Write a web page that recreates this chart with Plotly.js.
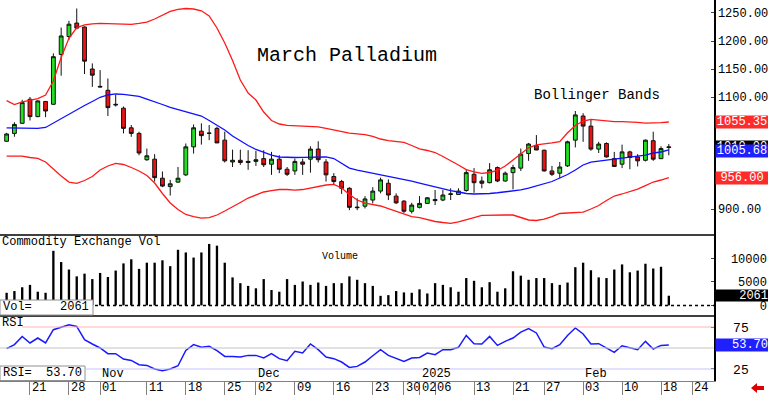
<!DOCTYPE html>
<html><head><meta charset="utf-8">
<script src="https://cdn.plot.ly/plotly-3.0.1.min.js"></script>
<style>html,body{margin:0;padding:0;background:#fff}#chart{width:768px;height:395px}</style>
</head><body><div id="chart"></div>
<script>
// Trading-day calendar (categories), including the empty days to the right
const days = [
'2024-10-16','2024-10-17','2024-10-18','2024-10-21','2024-10-22','2024-10-23','2024-10-24','2024-10-25','2024-10-28','2024-10-29','2024-10-30','2024-10-31',
'2024-11-01','2024-11-04','2024-11-05','2024-11-06','2024-11-07','2024-11-08','2024-11-11','2024-11-12','2024-11-13','2024-11-14','2024-11-15','2024-11-18','2024-11-19','2024-11-20','2024-11-21','2024-11-22','2024-11-25','2024-11-26','2024-11-27','2024-11-29',
'2024-12-02','2024-12-03','2024-12-04','2024-12-05','2024-12-06','2024-12-09','2024-12-10','2024-12-11','2024-12-12','2024-12-13','2024-12-16','2024-12-17','2024-12-18','2024-12-19','2024-12-20','2024-12-23','2024-12-24','2024-12-26','2024-12-27','2024-12-30','2024-12-31',
'2025-01-02','2025-01-03','2025-01-06','2025-01-07','2025-01-08','2025-01-09','2025-01-10','2025-01-13','2025-01-14','2025-01-15','2025-01-16','2025-01-17','2025-01-21','2025-01-22','2025-01-23','2025-01-24','2025-01-27','2025-01-28','2025-01-29','2025-01-30','2025-01-31',
'2025-02-03','2025-02-04','2025-02-05','2025-02-06','2025-02-07','2025-02-10','2025-02-11','2025-02-12','2025-02-13','2025-02-14','2025-02-18','2025-02-19',
'2025-02-20','2025-02-21','2025-02-24','2025-02-25','2025-02-26','2025-02-27','2025-02-28'];

const open = [1021,1035,1053,1096,1065,1092,1087,1176,1208,1232,1225,1150,1119,1112,1087,1080,1045,1035,988,989,955,940,948,961,1011,1039,1035,1044,1023,984,987,983,985,990,980,989,971,968,984,989,1007,984,958,949,937,903.5,905,916,932,946,923,914,896,903,910,917,916,926,926,933,962,950,947,974,950,965,973,999,1013,1005,968,964,977,1023,1066,1048,1007,1017,990,980,1002,993,987,1022,990,1011];
const high = [1036,1055,1095,1100,1094,1093,1178,1224,1236,1258,1226,1160,1148,1133,1104,1083,1050,1038,1008,998,967,952,975,1017,1051,1053,1050,1047,1038,1006,1006,1005,1004,1005,1002,996,975,990,990,1012,1021,989,964,952,939,919,923,939,956,953,928,916,911,923,921,934,934,937,937,970,973,958,982,976,967,979,1008,1018,1032,1006,977,984,1022,1075,1071,1059,1020,1019,1002,1015,1004,998,1024,1038,1012,1016];
const low = [1020,1029,1052,1058,1064,1064,1086,1138,1202,1221,1141,1118,1117,1066,1083,1035,1029,996,986,949,939,924,947,959,999,1015,1023,1018,983,975,979,970,977,975,961,964,959,961,961,965,983,949,943,927,898,898,901,910,928,916,909,893,892,901,909,907,914,916,925,931,929,937,946,948,949,935,968,986,1005,967,959,955,975,1010,1020,1004,1000,992,975,973,971,976,985,986,989,996];
const close = [1034,1051,1090,1065,1093,1075,1172,1209,1230,1223,1164,1139,1118,1081,1086,1044,1035,1000,995,956,941,945,955,1011,1045,1031,1035.5,1018,986,987,983,985,988,979,989,971,962,985,980,1007,988,961,949,937,903,902.5,918,932,952,925,911,896,907,910,920,915,925,927,932,965,947,946,970,950,964,974,998,1016,1005.4,968,962,975,1020,1068,1048,1007,1016,993,976,1002,992,986,1023,989,1008,1010];
const bandUpper = [1093.6,1086.6,1091.1,1094.1,1097.3,1103.6,1128.6,1170.5,1204.8,1223.9,1228.9,1230.4,1231.6,1231.1,1230.4,1230.2,1229.8,1231.3,1233.6,1239.3,1246.4,1252.7,1256.3,1258,1257.1,1253.9,1244.6,1223.2,1196.4,1165.2,1130.4,1107.1,1094.6,1073.2,1058,1051.8,1049.5,1049.1,1048.2,1047.5,1046.8,1044,1041.1,1038.2,1035.4,1034,1032.7,1029.5,1025,1022.3,1020.9,1018.8,1013.4,1007.5,1004.5,1000.9,993.8,986.8,978.6,970.4,966.1,963.8,965.2,968.8,976.8,987.5,999.1,1009.3,1014.6,1015.7,1017.9,1020.2,1036.1,1049.1,1057.1,1060,1058.4,1057.1,1055.9,1055.9,1055.9,1054.6,1053.2,1053.4,1054.3,1055.35];
const bandMiddle = [1045,1044.6,1044.3,1044.1,1044,1045.6,1053.6,1061.6,1069.6,1076.8,1084.8,1092,1099.5,1103.6,1105.4,1104.8,1103.2,1101,1096.4,1092,1086.6,1081.3,1077.7,1073.2,1070.5,1066,1058,1050,1041.1,1030.4,1021.4,1013.4,1006.3,1001,996.4,992.9,992,992,992.3,992.9,993.4,992.9,990.2,982.1,973.2,969.6,966.9,964.3,961.6,958.9,956.2,953,950,946.4,942.9,939.3,935.7,933,930.4,927.7,926.8,926.8,927.7,929,930.4,931.3,934,937.5,941.1,944.6,949.1,955.4,961.6,969.6,978.6,983.9,985.7,987.9,989.6,991.1,992.3,993.8,996.4,1000,1001.8,1005.68];
const bandLower = [994.5,995,994.3,992,990.5,983.9,970.5,958.9,948.2,945.9,950.9,958,969.6,976.8,981.6,979.5,974.1,967.9,959.8,946.4,927.7,910.7,899.1,890.2,886.6,883.6,884.8,889.3,896.4,903.6,911.6,919.6,925,930.4,933,934.8,934.8,933.9,934.8,937.5,940.2,942.9,944.1,937.5,925.9,916.1,910.7,908,905.4,900.9,896.4,892,886.6,884.8,881.3,877.7,875.9,874.5,877.1,880.4,884.8,888.8,889.3,889.3,889.3,889.3,884.8,880.4,879.5,882.1,886.6,892,892.9,893.2,894.6,900,906.3,915.2,923.2,926.8,930.7,935.7,941.9,948.2,951.8,956];
const volume = [2690,3060,3870,4380,2920,2690,11660,9260,7660,6200,6780,5620,6930,6060,7440,8970,9850,7800,9120,9120,9630,8380,11880,11310,10220,11310,13130,12760,9120,5980,4750,4160,3650,5620,3280,2920,5620,4380,5100,4380,4880,4160,4750,4750,6200,5470,4750,4160,2040,2190,3060,2770,2690,3430,2550,4750,4380,3870,2920,5840,5250,3870,4960,2920,3650,7290,6350,5470,5840,5840,4750,4380,4880,8160,9120,7510,5980,5840,7660,8750,7070,7440,8900,7880,8250,2061];
const rsi = [49.2,54,63.8,56,61.9,56,71.8,75,77.7,75.7,59.9,54.8,50,43.2,43.2,36.9,35.2,30.1,29.3,25,23,25,28.9,47.1,54,50.8,52,46.8,40,40,39.3,41.2,41.2,38.1,43.2,37.3,34.9,46,44,54.8,48,39.3,37.3,33.3,26.9,28.1,33.3,40.8,48,41.2,37.3,34,38.1,38.8,44,42,48,48,50.8,65,55.1,54.8,63.8,53.1,57.9,61.9,69,73,67.9,51.2,49.2,54,65,73.8,66.7,54.8,55.1,50,44.8,52.7,50,48,57.9,48.8,53.1,53.7];

const tickDays = ['2024-10-21','2024-10-28','2024-11-01','2024-11-11','2024-11-18','2024-11-25','2024-12-02','2024-12-09','2024-12-16','2024-12-23','2024-12-30','2025-01-02','2025-01-06','2025-01-13','2025-01-21','2025-01-27','2025-02-03','2025-02-10','2025-02-18','2025-02-24'];
const tickText = ['21','28','01','11','18','25','02','09','16','23','30','02','06','13','21','27','03','10','18','24'];
const monthDays = ['2024-11-01','2024-12-02','2025-01-02','2025-02-03'];
const monthText = ['Nov','Dec','2025','Feb'];
const priceTicks = [900,1100,1150,1200,1250];
const volTicks = [0,5000,10000];
const volTickText = ['\u00a0\u00a0\u00a0\u00a00','\u00a05000','10000'];
const rsiTicks = [25,75];
const lastClose = 1010.00, lastUpper = 1055.35, lastMiddle = 1005.68, lastLower = 956.00, lastVol = 2061, lastRsi = 53.70;

const n = close.length;
const x = days.slice(0, n);
const MONO = 'Liberation Mono, DejaVu Sans Mono, monospace';

const traces = [
  {type:'scatter', mode:'lines', x:x, y:bandUpper, line:{color:'#ff1a1a', width:1.3}, xaxis:'x', yaxis:'y', hoverinfo:'skip'},
  {type:'scatter', mode:'lines', x:x, y:bandLower, line:{color:'#ff1a1a', width:1.3}, xaxis:'x', yaxis:'y', hoverinfo:'skip'},
  {type:'scatter', mode:'lines', x:x, y:bandMiddle, line:{color:'#1010ff', width:1.3}, xaxis:'x', yaxis:'y', hoverinfo:'skip'},
  {type:'candlestick', x:x, open:open, high:high, low:low, close:close, xaxis:'x', yaxis:'y',
    increasing:{fillcolor:'#22e022', line:{color:'#111', width:1}},
    decreasing:{fillcolor:'#ee1111', line:{color:'#111', width:1}}, whiskerwidth:0},
  {type:'bar', x:x, y:volume, width:0.3, marker:{color:'#000', line:{width:0}}, xaxis:'x', yaxis:'y2'},
  {type:'scatter', mode:'lines', x:x, y:rsi, line:{color:'#1a1aff', width:1.5}, xaxis:'x', yaxis:'y3'}
];

const H = 381; // plot-area height in px
const py = v => (H - v) / H; // pixel row -> paper y
const W = 714;
const px = v => v / W;

function txt(o) { return Object.assign({showarrow:false, yanchor:'middle', font:{family:MONO, size:12, color:'#000'}}, o); }

const annotations = [
  txt({xref:'paper', yref:'y', x:px(347), xanchor:'center', y:1175, text:'March Palladium', font:{family:MONO, size:20, color:'#000'}}),
  txt({xref:'paper', yref:'y', x:px(597), xanchor:'center', y:1104, text:'Bollinger Bands', font:{family:MONO, size:14, color:'#000'}}),
  txt({xref:'paper', yref:'paper', x:0, xanchor:'left', y:py(242), text:'Commodity Exchange Vol'}),
  txt({xref:'paper', yref:'paper', x:px(340), xanchor:'center', y:py(256), text:'Volume', font:{family:MONO, size:10, color:'#000'}}),
  txt({xref:'paper', yref:'paper', x:px(1), xanchor:'left', y:py(307), text:'Vol='}),
  txt({xref:'paper', yref:'paper', x:px(91), xanchor:'right', y:py(307), text:String(lastVol)}),
  txt({xref:'paper', yref:'paper', x:0, xanchor:'left', y:py(323), text:'RSI'}),
  txt({xref:'paper', yref:'paper', x:px(1), xanchor:'left', y:py(373), text:'RSI='}),
  txt({xref:'paper', yref:'paper', x:px(84), xanchor:'right', y:py(373), text:lastRsi.toFixed(2)}),
  // right-side value boxes
  txt({xref:'paper', yref:'y', x:1, xanchor:'left', xshift:1, y:lastClose, text:lastClose.toFixed(2), bgcolor:'#000', width:52, height:12, borderpad:0, font:{family:MONO, size:12, color:'#fff'}}),
  txt({xref:'paper', yref:'y', x:1, xanchor:'left', xshift:1, y:lastMiddle-1.6, text:lastMiddle.toFixed(2), bgcolor:'#2020ff', width:52, height:12, borderpad:0, font:{family:MONO, size:12, color:'#fff'}}),
  txt({xref:'paper', yref:'y', x:1, xanchor:'left', xshift:1, y:lastUpper, text:lastUpper.toFixed(2), bgcolor:'#ff2b2b', width:52, height:12, borderpad:0, font:{family:MONO, size:12, color:'#fff'}}),
  txt({xref:'paper', yref:'y', x:1, xanchor:'left', xshift:1, y:lastLower, text:lastLower.toFixed(2), bgcolor:'#ff2b2b', width:52, height:12, borderpad:0, font:{family:MONO, size:12, color:'#fff'}}),
  txt({xref:'paper', yref:'y2', x:1, xanchor:'left', xshift:1, y:lastVol, text:String(lastVol), bgcolor:'#000', width:52, height:11, align:'right', borderpad:0, font:{family:MONO, size:12, color:'#fff'}}),
  txt({xref:'paper', yref:'y3', x:1, xanchor:'left', xshift:1, y:lastRsi, text:lastRsi.toFixed(2), bgcolor:'#2020ff', width:52, height:12, align:'right', borderpad:0, font:{family:MONO, size:12, color:'#fff'}})
];
monthDays.forEach((d, i) => {
  annotations.push(txt({xref:'x', yref:'paper', x:days.indexOf(d), xanchor:'left', xshift:0, y:py(374), text:monthText[i]}));
});
// day labels, placed just right of each tick separator
tickDays.forEach((d, i) => {
  annotations.push(txt({xref:'x', yref:'paper', x:days.indexOf(d), xanchor:'left', xshift:0, y:py(388), text:tickText[i]}));
});

const shapes = [
  {type:'line', xref:'paper', yref:'paper', x0:0, x1:1, y0:py(235), y1:py(235), line:{color:'#000', width:1.5}},
  {type:'line', xref:'paper', yref:'paper', x0:0, x1:1, y0:py(316), y1:py(316), line:{color:'#000', width:1.5}},
  {type:'line', xref:'paper', yref:'y2', x0:px(95), x1:1, y0:0, y1:0, line:{color:'#000', width:1.5, dash:'dot'}},
  {type:'line', xref:'paper', yref:'y3', x0:px(22), x1:1, y0:75, y1:75, line:{color:'#ffb4b4', width:1}},
  {type:'line', xref:'paper', yref:'y3', x0:0, x1:1, y0:50, y1:50, line:{color:'#c4c4c4', width:1}},
  {type:'line', xref:'paper', yref:'y3', x0:px(86), x1:1, y0:25, y1:25, line:{color:'#c4c4ff', width:1}},
  {type:'rect', xref:'paper', yref:'paper', x0:0, x1:px(93), y0:py(315), y1:py(300), line:{color:'#909090', width:1}, fillcolor:'#fff', layer:'above'},
  {type:'rect', xref:'paper', yref:'paper', x0:0, x1:px(85), y0:py(380.5), y1:py(366), line:{color:'#909090', width:1}, fillcolor:'#fff', layer:'above'},
  {type:'path', xref:'paper', yref:'paper', fillcolor:'#e00000', line:{color:'#e00000', width:0},
   path:`M ${px(751)},${py(388)} L ${px(757)},${py(383)} L ${px(757)},${py(386)} L ${px(764)},${py(386)} L ${px(764)},${py(390)} L ${px(757)},${py(390)} L ${px(757)},${py(393)} Z`}
];

const layout = {
  width:768, height:395, margin:{l:0, r:54, t:0, b:14},
  paper_bgcolor:'#fff', plot_bgcolor:'#fff', showlegend:false,
  font:{family:MONO, size:12, color:'#000'},
  xaxis:{type:'category', categoryorder:'array', categoryarray:days, range:[-0.85, 90.8], anchor:'y3',
    rangeslider:{visible:false}, tickmode:'array', tickvals:tickDays, showticklabels:false,
    ticks:'outside', ticklen:14, tickcolor:'#808080', tickwidth:1, showgrid:false, zeroline:false,
    showline:true, linecolor:'#808080', linewidth:1, fixedrange:true},
  yaxis:{domain:[py(235), 1], range:[853.6, 1273.2], side:'right', anchor:'x', tickmode:'array', tickvals:priceTicks,
    tickformat:'.2f', ticks:'inside', ticklen:3, showgrid:false, zeroline:false, showline:true, linecolor:'#000', linewidth:1.5,
    tickfont:{family:MONO, size:12, color:'#000'}, fixedrange:true},
  yaxis2:{domain:[py(316), py(235)], range:[-2270, 15040], side:'right', anchor:'x', tickmode:'array', tickvals:volTicks, ticktext:volTickText,
    ticks:'inside', ticklen:3, ticklabelstandoff:13, showgrid:false, zeroline:false, showline:true, linecolor:'#000', linewidth:1.5,
    tickfont:{family:MONO, size:12, color:'#000'}, fixedrange:true},
  yaxis3:{domain:[0, py(316)], range:[10.7, 88.1], side:'right', anchor:'x', tickmode:'array', tickvals:rsiTicks,
    ticks:'inside', ticklen:3, ticklabelstandoff:15, showgrid:false, zeroline:false, showline:true, linecolor:'#000', linewidth:1.5,
    tickfont:{family:MONO, size:13, color:'#000'}, fixedrange:true},
  annotations:annotations, shapes:shapes
};

Plotly.newPlot('chart', traces, layout, {staticPlot:true, displayModeBar:false});
</script></body></html>
